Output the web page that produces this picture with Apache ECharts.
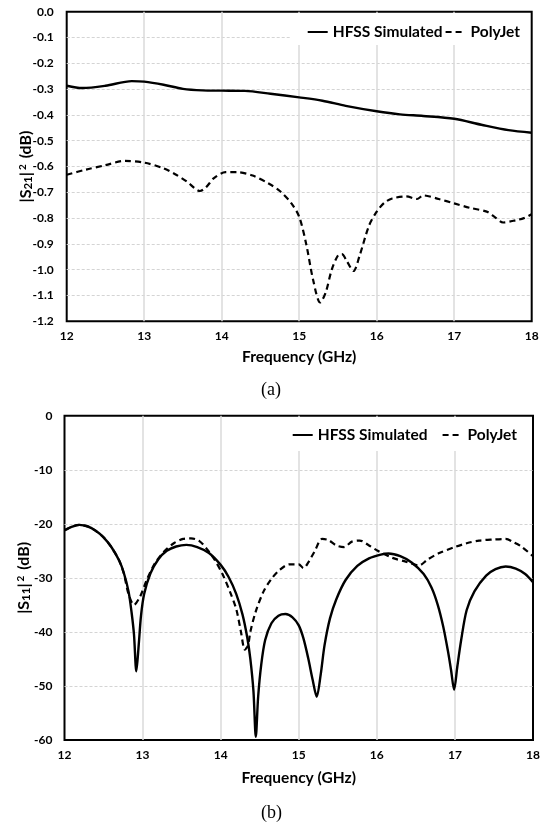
<!DOCTYPE html>
<html>
<head>
<meta charset="utf-8">
<script src="https://cdn.jsdelivr.net/npm/echarts@6/dist/echarts.min.js"></script>
<style>
  html, body { margin: 0; padding: 0; background: #fff; }
  #chart { width: 544px; height: 824px; }
</style>
</head>
<body>
<div id="chart"></div>
<script>
// (a) |S21|^2
const s21HfssFreq = [12.0, 12.2, 12.5, 12.84, 13.0, 13.25, 13.5, 13.75, 14.0, 14.3, 14.63, 15.0, 15.3, 15.6, 16.0, 16.3, 16.6, 17.0, 17.35, 17.7, 18.0]
const s21HfssDb = [-0.287, -0.296, -0.287, -0.269, -0.271, -0.283, -0.299, -0.305, -0.306, -0.307, -0.318, -0.332, -0.345, -0.365, -0.386, -0.398, -0.404, -0.415, -0.438, -0.459, -0.469]

const s21PolyFreq = [12.0, 12.25, 12.5, 12.75, 13.0, 13.25, 13.4, 13.55, 13.72, 13.8, 13.9, 14.05, 14.2, 14.4, 14.6, 14.75, 14.9, 15.0, 15.09, 15.18, 15.27, 15.34, 15.42, 15.5, 15.55, 15.62, 15.7, 15.78, 15.9, 16.0, 16.1, 16.2, 16.38, 16.52, 16.6, 16.8, 17.0, 17.2, 17.42, 17.52, 17.63, 17.8, 17.9, 18.0]
const s21PolyDb = [-0.632, -0.612, -0.595, -0.578, -0.585, -0.607, -0.630, -0.658, -0.695, -0.680, -0.645, -0.622, -0.622, -0.635, -0.665, -0.695, -0.743, -0.795, -0.900, -1.040, -1.127, -1.090, -1.000, -0.945, -0.940, -0.970, -1.005, -0.945, -0.830, -0.775, -0.740, -0.724, -0.716, -0.726, -0.712, -0.726, -0.743, -0.760, -0.775, -0.795, -0.817, -0.808, -0.800, -0.785]

// (b) |S11|^2
const s11HfssFreq = [12.0, 12.1, 12.19, 12.3, 12.4, 12.5, 12.6, 12.7, 12.76, 12.82, 12.86, 12.89, 12.92, 12.95, 12.98, 13.02, 13.1, 13.2, 13.31, 13.43, 13.56, 13.7, 13.85, 14.0, 14.1, 14.2, 14.28, 14.34, 14.38, 14.42, 14.45, 14.48, 14.52, 14.57, 14.65, 14.74, 14.83, 14.92, 15.0, 15.06, 15.12, 15.18, 15.23, 15.28, 15.33, 15.4, 15.48, 15.6, 15.75, 15.9, 16.05, 16.15, 16.3, 16.45, 16.6, 16.7, 16.78, 16.85, 16.91, 16.95, 16.99, 17.03, 17.08, 17.15, 17.25, 17.4, 17.52, 17.65, 17.78, 17.9, 18.0]
const s11HfssDb = [-21.2, -20.5, -20.2, -20.5, -21.3, -22.5, -24.3, -26.8, -29.1, -32.5, -36.5, -40.5, -47.3, -42.5, -37.0, -33.0, -29.2, -26.6, -25.0, -24.2, -23.9, -24.3, -25.4, -27.6, -29.8, -33.0, -36.8, -41.0, -45.0, -51.0, -59.4, -52.0, -46.0, -41.5, -38.4, -37.0, -36.7, -37.3, -38.8, -41.2, -44.8, -49.0, -52.0, -48.0, -42.5, -37.5, -34.0, -30.4, -27.8, -26.4, -25.7, -25.5, -26.0, -27.2, -29.3, -31.8, -35.0, -39.0, -43.5, -47.0, -50.7, -46.5, -41.5, -36.0, -32.5, -29.6, -28.4, -27.9, -28.3, -29.3, -30.8]

const s11PolyFreq = [12.0, 12.1, 12.19, 12.3, 12.4, 12.5, 12.6, 12.7, 12.76, 12.82, 12.89, 12.97, 13.05, 13.15, 13.27, 13.4, 13.52, 13.62, 13.72, 13.82, 13.92, 14.02, 14.12, 14.2, 14.26, 14.31, 14.35, 14.38, 14.45, 14.55, 14.65, 14.75, 14.88, 15.0, 15.06, 15.12, 15.2, 15.3, 15.38, 15.48, 15.58, 15.68, 15.78, 15.9, 16.0, 16.2, 16.37, 16.54, 16.65, 16.8, 17.0, 17.15, 17.31, 17.5, 17.65, 17.75, 17.85, 18.0]
const s11PolyDb = [-21.2, -20.5, -20.2, -20.5, -21.3, -22.5, -24.3, -26.8, -29.2, -33.0, -35.0, -33.4, -30.5, -27.5, -25.2, -23.6, -22.8, -22.7, -23.1, -24.6, -26.6, -29.2, -32.6, -35.8, -40.0, -43.3, -42.5, -40.0, -36.2, -32.5, -30.2, -28.6, -27.5, -27.5, -28.2, -27.2, -25.2, -22.8, -23.0, -24.0, -24.3, -23.3, -23.1, -24.0, -24.9, -26.3, -27.0, -27.7, -26.6, -25.4, -24.3, -23.6, -23.1, -22.9, -22.8, -23.4, -24.2, -26.0]

const seriesNames = ['HFSS Simulated', 'PolyJet']

function zip(xs, ys) {
    return xs.map((x, i) => [x, ys[i]])
}

const font = 'Lato, "Open Sans", sans-serif'

function makeX(gridIndex, gap) {
    return {
        type: 'value',
        gridIndex: gridIndex,
        min: 12,
        max: 18,
        interval: 1,
        name: 'Frequency (GHz)',
        nameLocation: 'middle',
        nameGap: gap,
        nameMoveOverlap: false,
        nameTextStyle: { color: '#000', fontFamily: font, fontWeight: 'bold', fontSize: 15.5 },
        axisLine: { show: false },
        axisTick: { show: false },
        axisLabel: { color: '#000', fontFamily: font, fontWeight: 'bold', fontSize: 12, margin: 9 },
        splitLine: { show: true, showMinLine: false, showMaxLine: false, lineStyle: { color: '#dadada', width: 1.5 } }
    }
}

function makeY(gridIndex, sub, min, interval, digits, margin) {
    return {
        type: 'value',
        gridIndex: gridIndex,
        min: min,
        max: 0,
        interval: interval,
        name: '{b||S}{s|' + sub + '}{b||}{p|2}{b| (dB)}',
        nameLocation: 'middle',
        nameGap: 32,
        nameMoveOverlap: false,
        nameTextStyle: {
            color: '#000',
            rich: {
                b: { fontFamily: font, fontWeight: 'bold', fontSize: 16, color: '#000' },
                s: { fontFamily: font, fontWeight: 'bold', fontSize: 11.5, color: '#000', padding: [6, 0, 0, 0] },
                p: { fontFamily: font, fontWeight: 'bold', fontSize: 10, color: '#000', padding: [0, 2, 6, 2] }
            }
        },
        axisLine: { show: false },
        axisTick: { show: false },
        axisLabel: {
            color: '#000', fontFamily: font, fontWeight: 'bold', fontSize: 12, margin: margin,
            formatter: v => v.toFixed(digits)
        },
        splitLine: { show: true, showMinLine: false, showMaxLine: false, lineStyle: { color: '#d4d4d4', width: 1, type: [3, 2] } }
    }
}

function makeLine(name, data, xi, dashed) {
    return {
        name: name,
        type: 'line',
        xAxisIndex: xi,
        yAxisIndex: xi,
        data: data,
        symbol: 'none',
        smooth: 0.3,
        lineStyle: { color: '#000', width: dashed ? 2.2 : 2.4, type: dashed ? [6, 4] : 'solid' },
        itemStyle: { color: '#000' }
    }
}

function makeLegend(top, right, gap, pad) {
    return {
        top: top,
        right: right,
        data: seriesNames,
        itemWidth: 20,
        itemHeight: 14,
        itemGap: gap,
        padding: pad,
        backgroundColor: '#fff',
        itemStyle: { opacity: 0, borderWidth: 0 },
        textStyle: { color: '#000', fontFamily: font, fontWeight: 'bold', fontSize: 15.5 }
    }
}

const chart = echarts.init(document.getElementById('chart'))
chart.setOption({
    animation: false,
    backgroundColor: '#fff',
    grid: [
        { left: 66.7, top: 11.7, width: 465, height: 309.6, show: true, borderColor: '#000', borderWidth: 2 },
        { left: 64.5, top: 415.7, width: 468.5, height: 324.3, show: true, borderColor: '#000', borderWidth: 2 }
    ],
    legend: [
        makeLegend(13, 14, 2, [11, 10, 5, 16]),
        makeLegend(417, 17, 14, [10, 10, 8, 10])
    ],
    xAxis: [makeX(0, 28), makeX(1, 30)],
    yAxis: [makeY(0, '21', -1.2, 0.1, 1, 13), makeY(1, '11', -60, 10, 0, 12)],
    series: [
        makeLine(seriesNames[0], zip(s21HfssFreq, s21HfssDb), 0, false),
        makeLine(seriesNames[1], zip(s21PolyFreq, s21PolyDb), 0, true),
        makeLine(seriesNames[0], zip(s11HfssFreq, s11HfssDb), 1, false),
        makeLine(seriesNames[1], zip(s11PolyFreq, s11PolyDb), 1, true)
    ],
    graphic: [
        { type: 'text', left: 261, top: 381, style: { text: '(a)', fontFamily: '"Liberation Serif", serif', fontSize: 18, fill: '#000' } },
        { type: 'text', left: 261, top: 804, style: { text: '(b)', fontFamily: '"Liberation Serif", serif', fontSize: 18, fill: '#000' } }
    ]
})
</script>
</body>
</html>
